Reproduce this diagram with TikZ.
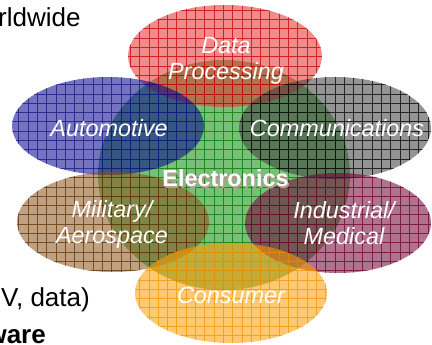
\documentclass[tikz,border=0pt]{standalone}
\usepackage{fontspec}
\setmainfont{Liberation Sans}

\definecolor{dpfill}{RGB}{228,46,46}
\definecolor{dpline}{RGB}{200,0,0}
\definecolor{aufill}{RGB}{0,0,140}
\definecolor{auline}{RGB}{20,20,130}
\definecolor{cofill}{RGB}{60,60,60}
\definecolor{coline}{RGB}{0,0,0}
\definecolor{mafill}{RGB}{137,82,28}
\definecolor{maline}{RGB}{100,50,0}
\definecolor{imfill}{RGB}{110,0,50}
\definecolor{imline}{RGB}{110,0,50}
\definecolor{cnfill}{RGB}{255,155,0}
\definecolor{cnline}{RGB}{240,150,0}
\definecolor{elfill}{RGB}{10,140,10}
\definecolor{elline}{RGB}{0,120,0}
\definecolor{elshadow}{RGB}{190,150,150}

\tikzset{
  blob/.style 2 args={fill=#1, fill opacity=.55,
    path picture={\draw[#2, line width=.6pt, draw opacity=.75, step=9.3pt] (0,0) grid (432,345);}},
  lbl/.style={text=white, inner sep=0pt, align=center,
    font=\fontsize{23.4}{26}\selectfont\itshape},
  bullet/.style={text=black, inner sep=0pt,
    font=\fontsize{26}{31}\selectfont},
}

\begin{document}
\begin{tikzpicture}[x=1pt, y=1pt]
\useasboundingbox (0,0) rectangle (432,345);
\clip (0,0) rectangle (432,345);

% slide text cut by the frame
\node[bullet, anchor=base west] (worldTxt) at (-2,318) {rldwide};
\node[bullet, anchor=base east] (dataTxt) at (90,38) {V, data)};
\node[bullet, anchor=base east, font=\fontsize{26}{31}\selectfont\bfseries] (wareTxt) at (46,1) {ware};

% ellipses
\path[blob={elfill}{elline}] (224,170) ellipse [x radius=126, y radius=115];
\path[blob={dpfill}{dpline}] (225,289) ellipse [x radius=97, y radius=51];
\path[blob={aufill}{auline}] (108,219) ellipse [x radius=96, y radius=49];
\path[blob={cofill}{coline}] (335,217) ellipse [x radius=96, y radius=51];
\path[blob={mafill}{maline}] (113,123) ellipse [x radius=96, y radius=50];
\path[blob={imfill}{imline}] (338,122) ellipse [x radius=93, y radius=50];
\path[blob={cnfill}{cnline}] (231,52) ellipse [x radius=96, y radius=50];

% labels
\node[lbl] (procTxt) at (226,284) {Data\\Processing};
\node[lbl] (autoTxt) at (109,217) {Automotive};
\node[lbl] (commTxt) at (337,217) {Communications};
\node[lbl] (milTxt) at (112,121) {Military/\\Aerospace};
\node[lbl] (indTxt) at (344,122) {Industrial/\\Medical};
\node[lbl] (consTxt) at (231,50) {Consumer};
\node[lbl, font=\fontsize{23.4}{26}\selectfont\bfseries, text=elshadow] (elecShd) at (227,165) {Electronics};
\node[lbl, font=\fontsize{23.4}{26}\selectfont\bfseries] (elecTxt) at (225.5,167) {Electronics};
\end{tikzpicture}
\end{document}
